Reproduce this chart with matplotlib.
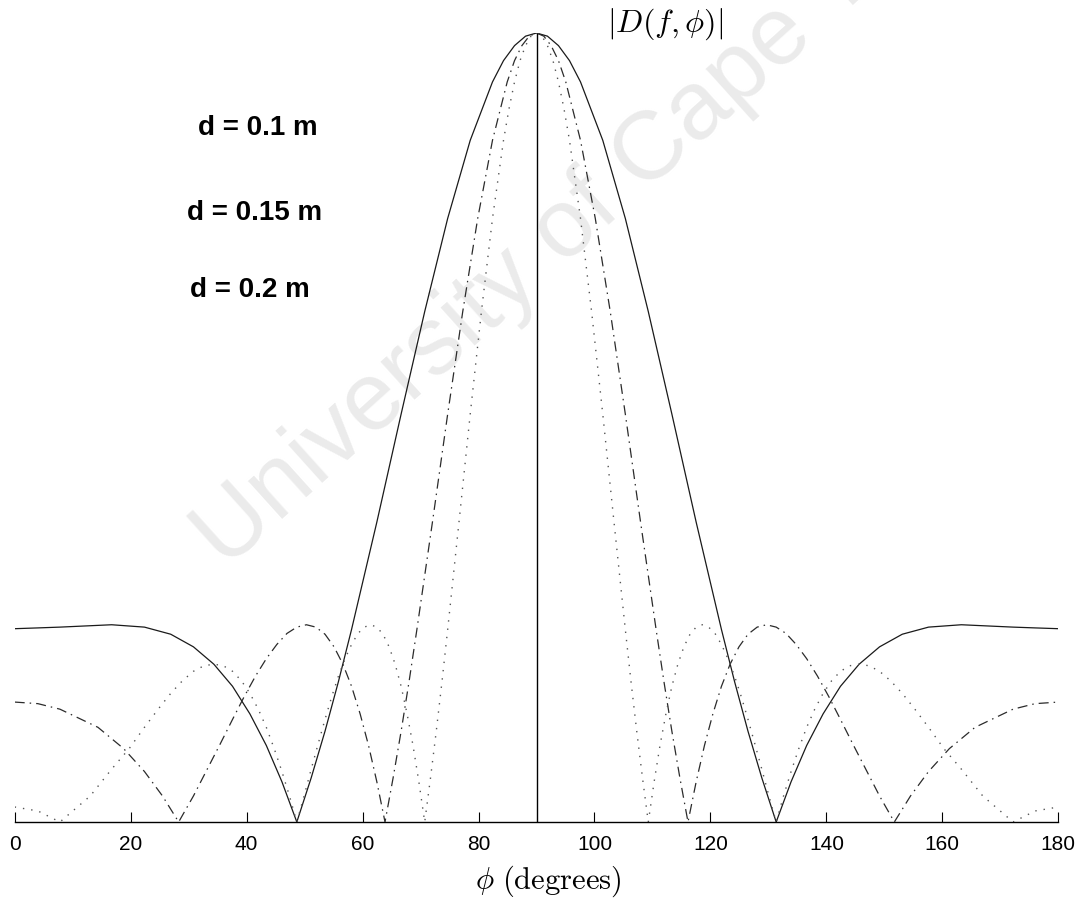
import matplotlib
matplotlib.use("Agg")
import matplotlib.pyplot as plt
import numpy as np

plt.rcParams['mathtext.fontset'] = 'cm'
plt.rcParams['font.family'] = ['Liberation Sans', 'DejaVu Sans']

# |D(f,phi)| of the array for three element spacings, phi in degrees
phi_d10 = [0, 4, 7.80, 16.72, 22.38, 26.91, 30.83, 34.35, 37.57, 40.57, 43.40, 46.09,
           48.66, 51.14, 53.52, 55.84, 58.10, 62.46, 66.65, 70.72, 74.68, 78.57, 82.41,
           84.31, 86.21, 88.11, 90,
           91.89, 93.79, 95.69, 97.59, 101.43, 105.32, 109.28, 113.35, 117.54, 121.90,
           124.16, 126.48, 128.86, 131.34, 133.91, 136.60, 139.43, 142.43, 145.65,
           149.17, 153.09, 157.62, 163.28, 172.20, 176, 180]
mag_d10 = [0.245, 0.246, 0.247, 0.250, 0.247, 0.238, 0.222, 0.200, 0.172, 0.137, 0.097, 0.051,
           0.0, 0.056, 0.115, 0.178, 0.244, 0.380, 0.517, 0.647, 0.765, 0.864, 0.938,
           0.965, 0.984, 0.996, 1.0,
           0.996, 0.984, 0.965, 0.938, 0.864, 0.765, 0.647, 0.517, 0.380, 0.244,
           0.178, 0.115, 0.056, 0.0, 0.051, 0.097, 0.137, 0.172, 0.200,
           0.222, 0.238, 0.247, 0.250, 0.247, 0.246, 0.245]

phi_d15 = [0, 4, 7.80, 14.36, 18.79, 22.38, 25.49, 28.28, 30.83, 33.21, 35.45, 37.57,
           39.59, 41.54, 43.40, 45.21, 46.96, 48.66, 50.32, 51.94, 53.52, 55.08, 56.61,
           58.10, 59.58, 61.03, 62.46, 63.87, 65.27, 66.65, 68.02, 69.37, 72.05, 74.68,
           77.28, 79.86, 82.41, 84.95, 86.21, 87.48, 88.74, 90,
           91.26, 92.52, 93.79, 95.05, 97.59, 100.14, 102.72, 105.32, 107.95, 110.63,
           111.98, 113.35, 114.73, 116.13, 117.54, 118.97, 120.42, 121.90, 123.39,
           124.92, 126.48, 128.06, 129.68, 131.34, 133.04, 134.79, 136.60, 138.46,
           140.41, 142.43, 144.55, 146.79, 149.17, 151.72, 154.51, 157.62, 161.21,
           165.64, 172.20, 176, 180]
mag_d15 = [0.152, 0.150, 0.143, 0.120, 0.093, 0.064, 0.033, 0.0, 0.033, 0.067, 0.099, 0.130,
           0.159, 0.185, 0.207, 0.225, 0.239, 0.247, 0.250, 0.247, 0.238, 0.222, 0.200,
           0.172, 0.137, 0.097, 0.051, 0.0, 0.056, 0.115, 0.178, 0.244, 0.380, 0.517,
           0.647, 0.765, 0.864, 0.938, 0.965, 0.984, 0.996, 1.0,
           0.996, 0.984, 0.965, 0.938, 0.864, 0.765, 0.647, 0.517, 0.380, 0.244,
           0.178, 0.115, 0.056, 0.0, 0.051, 0.097, 0.137, 0.172, 0.200,
           0.222, 0.238, 0.247, 0.250, 0.247, 0.239, 0.225, 0.207, 0.185,
           0.159, 0.130, 0.099, 0.067, 0.033, 0.0, 0.033, 0.064, 0.093,
           0.120, 0.143, 0.150, 0.152]

phi_d20 = [0, 4, 7.80, 13.03, 16.72, 19.74, 22.38, 24.74, 26.91, 28.93, 30.83, 32.63,
           34.35, 35.99, 37.57, 39.10, 40.57, 42.01, 43.40, 44.76, 46.09, 47.39, 48.66,
           49.91, 51.14, 52.34, 53.52, 54.69, 55.84, 56.98, 58.10, 59.21, 60.31, 61.39,
           62.46, 63.52, 64.58, 65.62, 66.65, 67.68, 68.70, 69.71, 70.72, 71.72, 72.71,
           73.70, 74.68, 76.63, 78.57, 80.50, 82.41, 84.31, 85.26, 86.21, 87.16, 88.11,
           89.05, 90,
           90.95, 91.89, 92.84, 93.79, 94.74, 95.69, 97.59, 99.50, 101.43, 103.37,
           105.32, 106.30, 107.29, 108.28, 109.28, 110.29, 111.30, 112.32, 113.35,
           114.38, 115.42, 116.48, 117.54, 118.61, 119.69, 120.79, 121.90, 123.02,
           124.16, 125.31, 126.48, 127.66, 128.86, 130.09, 131.34, 132.61, 133.91,
           135.24, 136.60, 137.99, 139.43, 140.90, 142.43, 144.01, 145.65, 147.37,
           149.17, 151.07, 153.09, 155.26, 157.62, 160.26, 163.28, 166.97, 172.20,
           176, 180]
mag_d20 = [0.019, 0.014, 0.0, 0.033, 0.067, 0.093, 0.120, 0.143, 0.163, 0.179, 0.191, 0.198,
           0.200, 0.198, 0.191, 0.179, 0.163, 0.143, 0.120, 0.093, 0.064, 0.033, 0.0,
           0.033, 0.067, 0.099, 0.130, 0.159, 0.185, 0.207, 0.225, 0.239, 0.247, 0.250,
           0.247, 0.238, 0.222, 0.200, 0.172, 0.137, 0.097, 0.051, 0.0, 0.056, 0.115,
           0.178, 0.244, 0.380, 0.517, 0.647, 0.765, 0.864, 0.904, 0.938, 0.965, 0.984,
           0.996, 1.0,
           0.996, 0.984, 0.965, 0.938, 0.904, 0.864, 0.765, 0.647, 0.517, 0.380,
           0.244, 0.178, 0.115, 0.056, 0.0, 0.051, 0.097, 0.137, 0.172,
           0.200, 0.222, 0.238, 0.247, 0.250, 0.247, 0.239, 0.225, 0.207,
           0.185, 0.159, 0.130, 0.099, 0.067, 0.033, 0.0, 0.033, 0.064,
           0.093, 0.120, 0.143, 0.163, 0.179, 0.191, 0.198, 0.200, 0.198,
           0.191, 0.179, 0.163, 0.143, 0.120, 0.093, 0.067, 0.033, 0.0,
           0.014, 0.019]

spacing_labels = ['d = 0.1 m', 'd = 0.15 m', 'd = 0.2 m']
xticks = [0, 20, 40, 60, 80, 100, 120, 140, 160, 180]
broadside = 90
peak = 1.0

W, H = 1082, 899
fig = plt.figure(figsize=(W / 100, H / 100), dpi=100)
ax = fig.add_axes([14.7 / W, 1 - 822 / H, (1058.3 - 14.7) / W, (822 - 33) / H])
ax.set_zorder(1)
ax.patch.set_visible(False)

ax.plot(phi_d10, mag_d10, color='#1a1a1a', lw=0.9)
ax.plot(phi_d15, mag_d15, color='#2b2b2b', lw=0.9, dashes=(8, 4, 1.2, 4))
ax.plot(phi_d20, mag_d20, color='#555555', lw=1.0, dashes=(1, 5))
ax.vlines(broadside, 0, peak, color='black', lw=1.0)

ax.set_xlim(0, 180)
ax.set_ylim(0, 1.0)
ax.set_xticks(xticks)
ax.set_yticks([])
for s in ['top', 'right', 'left']:
    ax.spines[s].set_visible(False)
ax.spines['bottom'].set_linewidth(1.0)
ax.tick_params(axis='x', direction='in', length=7, width=0.8, pad=9, labelsize=15)

# labels for the three spacings
for txt, (px, py) in zip(spacing_labels, [(257.5, 128), (255, 213), (249.5, 290)]):
    fig.text(px / W, 1 - py / H, txt, ha='center', va='center',
             fontsize=20, fontweight='bold')

fig.text(665 / W, 1 - 24 / H, r'$|D(f,\phi)|$', ha='center', va='center', fontsize=23)
fig.text(548 / W, 1 - 881 / H, r'$\phi\ \mathrm{(degrees)}$', ha='center', va='center',
         fontsize=22)

# faint diagonal watermark behind the curves
fig.text(226 / W, 1 - 570 / H, 'University of Cape Town', rotation=42,
         rotation_mode='anchor', ha='left', va='baseline', fontsize=70,
         color='#ebebeb', zorder=0)

fig.savefig('out.png', dpi=100)
